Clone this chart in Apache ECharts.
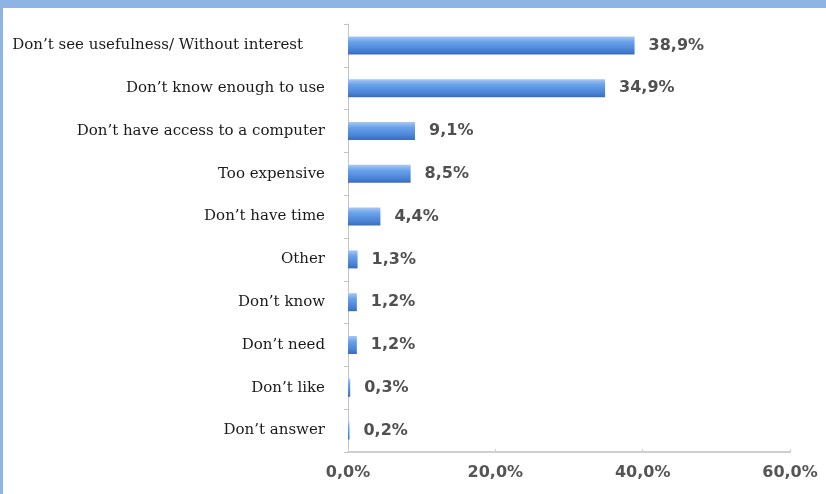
<!DOCTYPE html>
<html>
<head>
<meta charset="utf-8">
<script src="https://cdn.jsdelivr.net/npm/echarts@6/dist/echarts.min.js"></script>
<style>
  html, body { margin: 0; padding: 0; background: #ffffff; }
  #chart { width: 826px; height: 494px; }
</style>
</head>
<body>
<div id="chart"></div>
<script>
// Reasons for not using a computer, share of respondents (%)
const categories = [
  'Don\u2019t see usefulness/ Without interest',
  'Don\u2019t know enough to use',
  'Don\u2019t have access to a computer',
  'Too expensive',
  'Don\u2019t have time',
  'Other',
  'Don\u2019t know',
  'Don\u2019t need',
  'Don\u2019t like',
  'Don\u2019t answer'
];
const shares = [38.9, 34.9, 9.1, 8.5, 4.4, 1.3, 1.2, 1.2, 0.3, 0.2];
const axisTicks = [0, 20, 40, 60];

// decimal comma, one decimal place
const pct = v => v.toFixed(1).replace('.', ',') + '%';

const chart = echarts.init(document.getElementById('chart'), null, { renderer: 'canvas' });

const barFill = new echarts.graphic.LinearGradient(0, 0, 0, 1, [
  { offset: 0, color: '#a8c8f2' },
  { offset: 0.3, color: '#6aa2ea' },
  { offset: 0.75, color: '#4a84d6' },
  { offset: 1, color: '#3a6cb8' }
]);

chart.setOption({
  animation: false,
  backgroundColor: '#ffffff',
  graphic: [
    { type: 'rect', left: 0, top: 0, shape: { width: 826, height: 8 }, style: { fill: '#8db4e3' }, silent: true },
    { type: 'rect', left: 0, top: 0, shape: { width: 3, height: 494 }, style: { fill: '#8db4e3' }, silent: true }
  ],
  grid: { left: 348, right: 36, top: 24, bottom: 42, containLabel: false },
  xAxis: {
    type: 'value',
    min: axisTicks[0],
    max: axisTicks[axisTicks.length - 1],
    interval: axisTicks[1] - axisTicks[0],
    splitLine: { show: false },
    axisLine: { show: true, lineStyle: { color: '#cfcfcf', width: 2 } },
    axisTick: { show: true, inside: true, length: 3, lineStyle: { color: '#cfcfcf' } },
    axisLabel: {
      margin: 13,
      color: '#555555',
      fontFamily: 'DejaVu Sans',
      fontWeight: 'bold',
      fontSize: 16,
      formatter: v => pct(v)
    }
  },
  yAxis: {
    type: 'category',
    inverse: true,
    data: categories.map((c, i) => i === 0
      ? { value: c, textStyle: { padding: [0, 22, 0, 0] } }
      : c),
    axisLine: { show: true, lineStyle: { color: '#c4c4c4', width: 1 } },
    axisTick: { show: true, length: 4, lineStyle: { color: '#c4c4c4' } },
    axisLabel: {
      margin: 23,
      color: '#1a1a1a',
      fontFamily: 'DejaVu Serif',
      fontSize: 15
    }
  },
  series: [{
    type: 'bar',
    data: shares,
    barWidth: 18,
    itemStyle: { color: barFill },
    label: {
      show: true,
      position: 'right',
      distance: 14,
      color: '#505050',
      fontFamily: 'DejaVu Sans',
      fontWeight: 'bold',
      fontSize: 16,
      formatter: p => pct(p.value)
    }
  }]
});
</script>
</body>
</html>
